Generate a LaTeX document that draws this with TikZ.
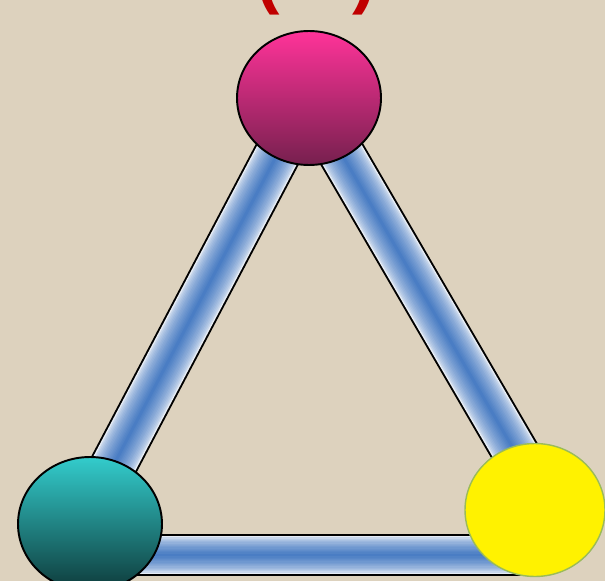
\documentclass[tikz,border=0pt]{standalone}
\usepackage{fontspec}
\setmainfont{Liberation Sans}
\usetikzlibrary{shapes.geometric}
\definecolor{linen}{HTML}{DDD2BE}
\definecolor{rosy}{HTML}{FF3399}
\definecolor{plum}{HTML}{76204E}
\definecolor{aqua}{HTML}{33CCCC}
\definecolor{deepteal}{HTML}{0E3A3A}
\definecolor{olive}{HTML}{9BBB59}
\definecolor{barblue}{HTML}{4A7DC4}
\definecolor{barpale}{HTML}{E6ECF5}
\definecolor{parred}{HTML}{C00000}
\pgfdeclarelayer{back}
\pgfdeclarelayer{mid}
\pgfsetlayers{back,mid,main}
\tikzset{
  ball/.style={ellipse, minimum width=2.88cm, minimum height=2.68cm, inner sep=0pt,
    draw=black, line width=1.1pt},
  paren/.style={text=parred, font=\fontsize{40}{40}\selectfont\bfseries,
    inner sep=0pt, anchor=base},
}
% tube: width in px, start, end
\newcommand{\tube}[3]{%
  \draw[line width=#1*0.5669pt+2.2pt, black] #2 -- #3;
  \foreach \k in {0,...,14}{
    \pgfmathtruncatemacro{\p}{100*(\k/14)^0.6}
    \pgfmathsetmacro{\w}{(1-\k/15)*#1*0.5669}
    \draw[line width=\w pt, barblue!\p!barpale] #2 -- #3;
  }%
}

\begin{document}
\begin{tikzpicture}[x=0.02cm, y=-0.02cm]
  \useasboundingbox (0,0) rectangle (605,581);
  \clip (0,0) rectangle (605,581);
  \begin{pgfonlayer}{back}
    \fill[linen] (0,0) rectangle (605,581);
  \end{pgfonlayer}

  \node[paren] (lpar) at (268,1) {(};
  \node[paren] (rpar) at (364,1) {)};

  \node[ball, top color=rosy, bottom color=plum] (top) at (309,98) {};
  \node[ball, top color=aqua, bottom color=deepteal] (teal) at (90,524) {};
  \node[ball, minimum width=2.8cm, minimum height=2.66cm, draw=olive,
    line width=0.8pt, fill=yellow] (yel) at (535,510) {};

  \begin{pgfonlayer}{mid}
    \tube{44}{([xshift=-0.04cm]top.center)}{([xshift=-0.15cm]teal.center)}
    \tube{44}{(top.center)}{([xshift=0.28cm]yel.center)}
    \tube{38}{([yshift=-0.62cm]teal.center)}{([yshift=-0.62cm]teal.center -| yel.center)}
  \end{pgfonlayer}
\end{tikzpicture}
\end{document}
